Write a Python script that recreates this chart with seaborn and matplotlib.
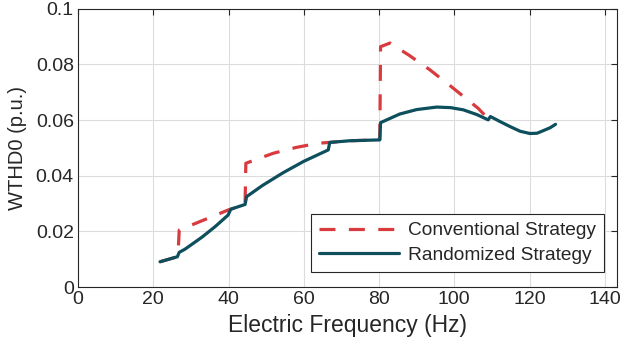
import numpy as np
import pandas as pd
import matplotlib
matplotlib.use("Agg")
import matplotlib.pyplot as plt
import seaborn as sns

# Data
rand_freq = [21.8, 26.4, 26.9, 28.4, 33.0, 36.5, 39.9, 40.6, 44.4, 44.8, 49.0, 54.5, 60.0, 66.5, 66.9,
             72.3, 80.2, 80.4, 85.5, 90.0, 95.3, 99.0, 102.4, 106.0, 109.0, 109.6, 112.0, 114.8,
             117.5, 120.1, 122.0, 123.6, 125.5, 126.9]
rand_vals = [0.0091, 0.0109, 0.0125, 0.0136, 0.0180, 0.0218, 0.0259, 0.0280, 0.0297, 0.0325, 0.0365,
             0.0411, 0.0452, 0.0493, 0.0520, 0.0526, 0.0529, 0.0591, 0.0622, 0.0638, 0.0647, 0.0645,
             0.0637, 0.0620, 0.0601, 0.0613, 0.0596, 0.0577, 0.0560, 0.0552, 0.0553, 0.0562, 0.0573, 0.0585]

conv_freq = [21.8, 26.4, 26.7, 26.9, 39.9, 40.6, 44.4, 44.6, 51.9, 58.0, 63.8, 66.9, 72.3, 80.2,
             80.4, 82.9, 88.0, 93.5, 99.7, 106.3, 109.0]
conv_vals = [0.0091, 0.0109, 0.0151, 0.0205, 0.0277, 0.0280, 0.0297, 0.0445, 0.0481, 0.0502, 0.0517,
             0.0520, 0.0526, 0.0529, 0.0864, 0.0877, 0.0833, 0.0781, 0.0715, 0.0643, 0.0605]

labels = ["Conventional Strategy", "Randomized Strategy"]
xticks = [0, 20, 40, 60, 80, 100, 120, 140]
yticks = [0, 0.02, 0.04, 0.06, 0.08, 0.1]
yticklabels = ["0", "0.02", "0.04", "0.06", "0.08", "0.1"]

df = pd.concat([
    pd.DataFrame({"f": conv_freq, "v": conv_vals, "s": labels[0]}),
    pd.DataFrame({"f": rand_freq, "v": rand_vals, "s": labels[1]}),
])

sns.set_style("white")
plt.rcParams['font.family'] = ['Liberation Sans', 'DejaVu Sans']

fig = plt.figure(figsize=(6.25, 3.54), dpi=100)
ax = fig.add_axes([0.1248, 0.189, 0.8622, 0.786])

red = "#d93a3d"
teal = "#0d4f5c"
lw = 2.3
dash = [5.0, 4.2]

sns.lineplot(data=df[df.s == labels[1]], x="f", y="v", sort=False, color=teal, lw=lw,
             ax=ax, label=labels[1], estimator=None)
sns.lineplot(data=df[df.s == labels[0]], x="f", y="v", sort=False, color=red, lw=lw,
             ax=ax, label=labels[0], estimator=None)
ax.lines[1].set_dashes(dash)
ax.lines[1].set_dash_capstyle("butt")
ax.lines[0].set_zorder(3)
ax.lines[1].set_zorder(2)

ax.set_xlim(0, 143.2)
ax.set_ylim(0, 0.1)
ax.set_xticks(xticks)
ax.set_yticks(yticks)
ax.set_yticklabels(yticklabels)
ax.grid(True, color="#dcdcdc", lw=0.8)
ax.tick_params(direction="in", top=True, right=True, length=4, width=0.8,
               labelsize=14, colors="#262626", pad=3)
for sp in ax.spines.values():
    sp.set_color("#262626")
    sp.set_linewidth(0.8)
ax.set_xlabel("Electric Frequency (Hz)", fontsize=16.5, color="#262626", labelpad=4)
ax.set_ylabel("WTHD0 (p.u.)", fontsize=14.5, color="#262626", labelpad=6)

h, l = ax.get_legend_handles_labels()
order = [1, 0]
leg = ax.legend([h[i] for i in order], [l[i] for i in order], loc="lower right",
                bbox_to_anchor=(0.976, 0.054), fontsize=13.8, frameon=True, fancybox=False,
                handlelength=4.2, borderpad=0.42, labelspacing=0.38, handletextpad=0.45,
                borderaxespad=0)
leg.get_frame().set_edgecolor("#262626")
leg.get_frame().set_linewidth(0.8)
leg.get_frame().set_alpha(1)
leg.legend_handles[0].set_dashes(dash)
leg.legend_handles[0].set_dash_capstyle("butt")

fig.savefig("out.png", dpi=100)
